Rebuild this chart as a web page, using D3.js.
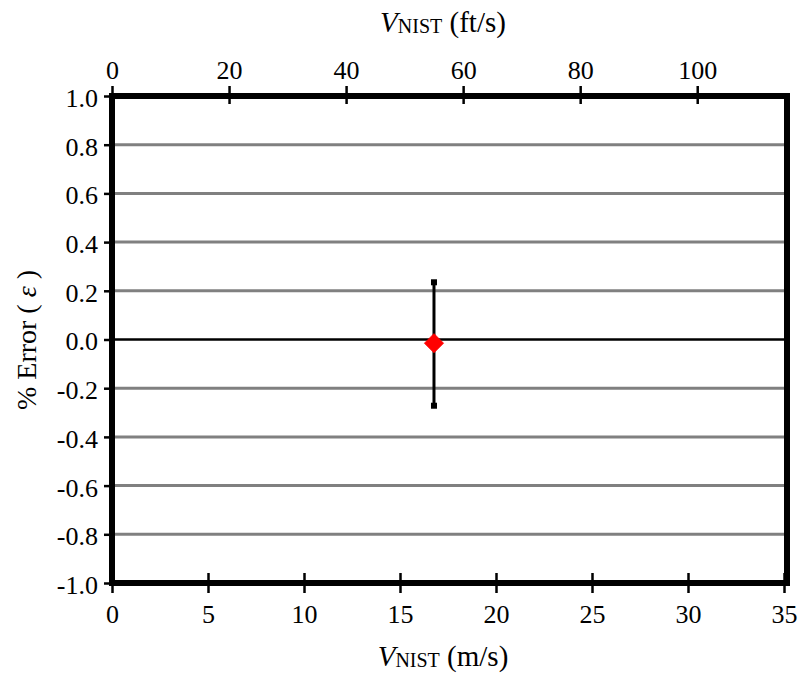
<!DOCTYPE html>
<html>
<head>
<script src="https://d3js.org/d3.v7.min.js"></script>
<style>
body { margin: 0; background: #fff; }
svg text { font-family: 'Liberation Serif', 'DejaVu Serif', serif !important; fill: #000; }
</style>
</head>
<body>
<script>
// data
var speedMs = [16.77];
var errPct = [-0.015];
var errUp = [0.235];
var errLo = [-0.272];
var yTicks = [-1.0, -0.8, -0.6, -0.4, -0.2, 0.0, 0.2, 0.4, 0.6, 0.8, 1.0];
var xTicksMs = [0, 5, 10, 15, 20, 25, 30, 35];
var xTicksFt = [0, 20, 40, 60, 80, 100];

var W = 801, H = 677;
var pL = 112, pR = 784, pT = 96, pB = 583;

var svg = d3.select("body").append("svg")
	.attr("width", W)
	.attr("height", H);

var x = d3.scaleLinear().domain([0, 35]).range([pL, pR]);
var xft = d3.scaleLinear().domain([0, 35 / 0.3048]).range([pL, pR]);
var y = d3.scaleLinear().domain([-1, 1]).range([pB, pT]);

// gridlines
svg.append("g").selectAll("line")
	.data(yTicks.filter(function(d) { return d != 0; }))
	.enter().append("line")
	.attr("x1", pL).attr("x2", pR)
	.attr("y1", function(d) { return y(d); })
	.attr("y2", function(d) { return y(d); })
	.attr("stroke", "#808080")
	.attr("stroke-width", 3);

svg.append("line")
	.attr("x1", pL).attr("x2", pR)
	.attr("y1", y(0)).attr("y2", y(0))
	.attr("stroke", "#000")
	.attr("stroke-width", 2.5);

// axes
function styleAxis(g) {
	g.attr("font-size", null).attr("font-family", null);
	g.select(".domain").remove();
	g.selectAll(".tick line").attr("stroke", "#000").attr("stroke-width", 2.5);
	g.selectAll(".tick text").style("font-size", "26px");
}

var gl = svg.append("g")
	.attr("transform", "translate(" + pL + ",0)")
	.call(d3.axisLeft(y).tickValues(yTicks).tickSize(8).tickPadding(6));
styleAxis(gl);
gl.selectAll(".tick text").attr("dy", "0.4em")
	.text(function(d) { return d3.format(".1f")(d).replace("−", "-"); });

var gb = svg.append("g")
	.attr("transform", "translate(0," + pB + ")")
	.call(d3.axisBottom(x).tickValues(xTicksMs).tickSize(10).tickPadding(12));
styleAxis(gb);
gb.selectAll(".tick line").attr("y1", -10);

var gt = svg.append("g")
	.attr("transform", "translate(0," + pT + ")")
	.call(d3.axisTop(xft).tickValues(xTicksFt).tickSize(10).tickPadding(7));
styleAxis(gt);
gt.selectAll(".tick line").attr("y1", 8);

// frame
svg.append("rect")
	.attr("x", pL).attr("y", pT)
	.attr("width", pR - pL + 3).attr("height", pB - pT)
	.attr("fill", "none")
	.attr("stroke", "#000")
	.attr("stroke-width", 6);

// error bars
var pts = speedMs.map(function(d, i) {
	return { v: d, e: errPct[i], hi: errUp[i], lo: errLo[i] };
});

svg.selectAll(".eb").data(pts).enter().append("line")
	.attr("x1", function(d) { return x(d.v); })
	.attr("x2", function(d) { return x(d.v); })
	.attr("y1", function(d) { return y(d.hi); })
	.attr("y2", function(d) { return y(d.lo); })
	.attr("stroke", "#000")
	.attr("stroke-width", 3);

svg.selectAll(".cap").data(pts.flatMap(function(d) { return [[d.v, d.hi], [d.v, d.lo]]; }))
	.enter().append("rect")
	.attr("x", function(d) { return x(d[0]) - 3; })
	.attr("y", function(d) { return y(d[1]) - 3; })
	.attr("width", 6).attr("height", 6)
	.attr("fill", "#000");

svg.selectAll(".pt").data(pts).enter().append("path")
	.attr("d", d3.symbol().type(d3.symbolDiamond2).size(230))
	.attr("transform", function(d) { return "translate(" + x(d.v) + "," + y(d.e) + ")"; })
	.attr("fill", "#ff0000")
	.attr("stroke", "#ff0000")
	.attr("stroke-width", 1)
	.attr("stroke-linejoin", "round");

// titles
function vTitle(tx, ty, unit) {
	var t = svg.append("text")
		.attr("x", tx).attr("y", ty)
		.attr("text-anchor", "middle")
		.style("font-size", "29px");
	t.append("tspan").attr("font-style", "italic").text("V");
	t.append("tspan").style("font-size", "20px").attr("dy", 1).text("NIST");
	t.append("tspan").attr("dy", -1).text(" " + unit);
}
vTitle(443, 32, "(ft/s)");
vTitle(443, 666, "(m/s)");

var yt = svg.append("text")
	.attr("transform", "translate(36,340) rotate(-90)")
	.attr("text-anchor", "middle")
	.style("font-size", "28px");
yt.append("tspan").text("% Error ( ");
yt.append("tspan").attr("font-style", "italic").text("ε");
yt.append("tspan").text(" )");
</script>
</body>
</html>
